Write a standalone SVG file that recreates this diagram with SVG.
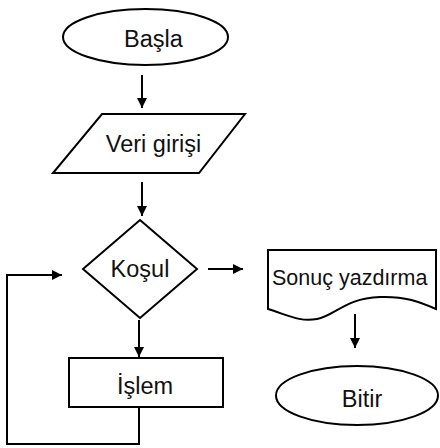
<svg xmlns="http://www.w3.org/2000/svg" width="440" height="448" viewBox="0 0 440 448">
<defs>
<marker id="ah" viewBox="0 0 10 10" refX="10" refY="5" markerWidth="5" markerHeight="5" orient="auto" markerUnits="strokeWidth">
<path d="M0,0 L10,5 L0,10 Z" fill="#000"/>
</marker>
<style>
.s{fill:#fff;stroke:#000;stroke-width:2}
.t{font-family:"Liberation Sans",Arial,sans-serif;font-size:23.5px;fill:#111}
.c{fill:none;stroke:#000;stroke-width:2}
</style>
</defs>
<rect width="440" height="448" fill="#fff"/>
<g id="connectors">
<line class="c" x1="142" y1="75" x2="142" y2="108" marker-end="url(#ah)"/>
<line class="c" x1="142" y1="182" x2="142" y2="216" marker-end="url(#ah)"/>
<line class="c" x1="139" y1="320" x2="139" y2="357" marker-end="url(#ah)"/>
<line class="c" x1="208" y1="269" x2="243" y2="269" marker-end="url(#ah)"/>
<line class="c" x1="355" y1="314" x2="355" y2="348" marker-end="url(#ah)"/>
<polyline class="c" points="139,407 139,444 7,444 7,275 62,275" marker-end="url(#ah)"/>
</g>
<g id="start">
<ellipse class="s" cx="145.5" cy="37" rx="82.5" ry="28"/>
<text class="t" x="153.5" y="47" text-anchor="middle">Başla</text>
</g>
<g id="input">
<polygon class="s" points="102,114 245,114 199,173 53,173"/>
<text class="t" x="153.5" y="152" text-anchor="middle">Veri girişi</text>
</g>
<g id="condition">
<polygon class="s" points="140,220 197,269 140,318 83,269"/>
<text class="t" x="140" y="277" text-anchor="middle">Koşul</text>
</g>
<g id="process">
<rect class="s" x="69" y="358" width="154" height="49"/>
<text class="t" x="145" y="394" text-anchor="middle">İşlem</text>
</g>
<g id="output">
<path class="s" d="M268,250 H436 V309 C420,302 405,296 380,297 C345,298 335,316 317,319 C300,322 290,316 268,309 Z"/>
<text class="t" x="272" y="285" style="font-size:21.5px">Sonuç yazdırma</text>
</g>
<g id="end">
<ellipse class="s" cx="357" cy="395.5" rx="81" ry="29.5"/>
<text class="t" x="362" y="407" text-anchor="middle">Bitir</text>
</g>
</svg>
